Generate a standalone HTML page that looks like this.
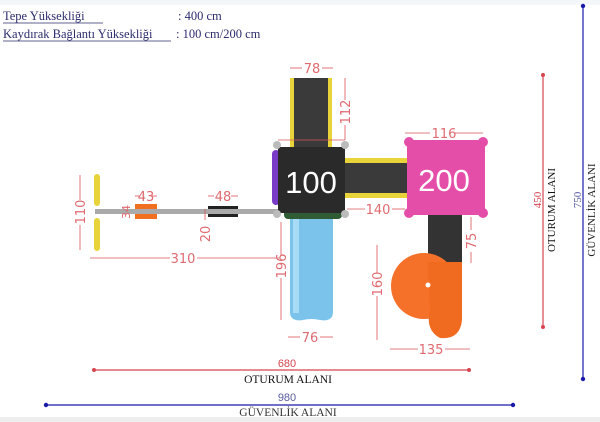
<!DOCTYPE html>
<html><head><meta charset="utf-8"><style>
body{margin:0;background:#fff;width:600px;height:422px;overflow:hidden}
svg{display:block}
.d{font-family:"DejaVu Sans","Liberation Sans",sans-serif;font-size:13px;fill:#df6a70}
.s{font-family:"Liberation Serif",serif}
</style></head><body>
<svg width="600" height="422" viewBox="0 0 600 422" xmlns="http://www.w3.org/2000/svg">
<rect x="0" y="0" width="600" height="5" fill="#f4f7fa"/>
<rect x="0" y="417" width="600" height="5" fill="#eee"/>
<g class="s" font-size="12.5" fill="#2c2c6e">
<text x="3" y="20">Tepe Yüksekliği</text>
<line x1="3" y1="23" x2="103" y2="23" stroke="#2c2c6e" stroke-width="0.8"/>
<text x="178" y="20">: 400 cm</text>
<text x="3" y="38">Kaydırak Bağlantı  Yüksekliği</text>
<line x1="3" y1="41" x2="171" y2="41" stroke="#2c2c6e" stroke-width="0.8"/>
<text x="176" y="38">: 100 cm/200 cm</text>
</g>
<line x1="94" y1="370" x2="469" y2="370" stroke="#d64550" stroke-width="1.2"/>
<circle cx="94" cy="370" r="2" fill="#d64550"/><circle cx="469" cy="370" r="2" fill="#d64550"/>
<text x="287" y="367" text-anchor="middle" font-family="Liberation Sans,sans-serif" font-size="11" fill="#d64550">680</text>
<text x="288" y="383" text-anchor="middle" class="s" font-size="11.5" fill="#111">OTURUM ALANI</text>
<line x1="46" y1="405" x2="513" y2="405" stroke="#1a1aa8" stroke-width="1.2"/>
<circle cx="46" cy="405" r="2.2" fill="#1a1aa8"/><circle cx="513" cy="405" r="2.2" fill="#1a1aa8"/>
<text x="287" y="401" text-anchor="middle" font-family="Liberation Sans,sans-serif" font-size="11" fill="#5a5aa0">980</text>
<text x="288" y="416" text-anchor="middle" class="s" font-size="11.5" fill="#333">GÜVENLİK ALANI</text>
<line x1="543" y1="75" x2="543" y2="327" stroke="#d64550" stroke-width="1.2"/>
<circle cx="543" cy="75" r="2" fill="#d64550"/><circle cx="543" cy="327" r="2" fill="#d64550"/>
<line x1="583" y1="6" x2="583" y2="379" stroke="#1a1aa8" stroke-width="1.2"/>
<circle cx="583" cy="6" r="2.2" fill="#1a1aa8"/><circle cx="583" cy="379" r="2.2" fill="#1a1aa8"/>
<text transform="translate(541,200) rotate(-90)" text-anchor="middle" font-family="Liberation Serif,serif" font-size="11" fill="#d64550">450</text>
<text transform="translate(555,210) rotate(-90)" text-anchor="middle" class="s" font-size="11" fill="#111">OTURUM  ALANI</text>
<text transform="translate(581,200) rotate(-90)" text-anchor="middle" font-family="Liberation Serif,serif" font-size="11" fill="#5a5aa0">750</text>
<text transform="translate(595,210) rotate(-90)" text-anchor="middle" class="s" font-size="11" fill="#222">GÜVENLİK ALANI</text>
<rect x="95" y="209" width="185" height="5" fill="#aaa"/>
<rect x="94" y="174" width="6" height="32" rx="3" fill="#e8d43a"/>
<rect x="94" y="218" width="6" height="33" rx="3" fill="#e8d43a"/>
<rect x="135" y="204" width="22" height="5" fill="#f07020"/><rect x="135" y="214" width="22" height="5" fill="#f07020"/>
<rect x="208" y="206" width="30" height="3" fill="#222"/><rect x="208" y="214" width="30" height="3" fill="#222"/>
<rect x="290" y="78" width="42" height="70" fill="#e8d43a"/>
<rect x="294" y="78" width="34" height="70" fill="#3a3a3a"/>
<rect x="345" y="158" width="62" height="40" fill="#e8d43a"/>
<rect x="345" y="163" width="62" height="30" fill="#3a3a3a"/>
<rect x="428" y="213" width="34" height="50" fill="#333"/>
<circle cx="424" cy="286" r="33" fill="#f5712a"/>
<path d="M428 262 L462 262 L462 320 Q460 340 440 338 Q425 330 430 310 Z" fill="#f06a20"/>
<circle cx="428" cy="285" r="2.5" fill="#fff"/>
<path d="M290 218 H333 V312 Q333 322 320 320 Q311 318 303 320 Q290 322 290 312 Z" fill="#7cc3ec"/>
<rect x="293" y="218" width="6" height="95" fill="#a8dbf6"/>
<rect x="272" y="150" width="8" height="55" rx="4" fill="#7a3bc8"/>
<rect x="284" y="205" width="58" height="14" rx="4" fill="#2f5b35"/>
<rect x="278" y="147" width="67" height="66" fill="#2a2a2a"/>
<text x="311" y="193" text-anchor="middle" font-family="Liberation Sans,sans-serif" font-size="31" fill="#fff">100</text>
<g fill="#bbb"><circle cx="277" cy="145" r="4"/><circle cx="345" cy="145" r="4"/><circle cx="277" cy="214" r="4"/><circle cx="345" cy="214" r="4"/></g>
<rect x="407" y="140" width="78" height="75" fill="#e54ea8"/>
<g fill="#e54ea8"><circle cx="409" cy="142" r="5"/><circle cx="483" cy="142" r="5"/><circle cx="409" cy="213" r="5"/><circle cx="483" cy="213" r="5"/></g>
<text x="444" y="191" text-anchor="middle" font-family="Liberation Sans,sans-serif" font-size="31" fill="#fff">200</text>
<g stroke="#d9545a" stroke-width="0.8" fill="none">
<line x1="290" y1="68" x2="302" y2="68"/><line x1="322" y1="68" x2="333" y2="68"/>
<line x1="345" y1="78" x2="345" y2="100"/><line x1="345" y1="125" x2="345" y2="140"/>
<line x1="405" y1="133" x2="430" y2="133"/><line x1="455" y1="133" x2="483" y2="133"/>
<line x1="347" y1="209" x2="365" y2="209"/><line x1="392" y1="209" x2="405" y2="209"/>
<line x1="471" y1="217" x2="471" y2="230"/><line x1="471" y1="252" x2="471" y2="263"/>
<line x1="281" y1="222" x2="281" y2="255"/><line x1="281" y1="278" x2="281" y2="320"/>
<line x1="288" y1="337" x2="300" y2="337"/><line x1="320" y1="337" x2="333" y2="337"/>
<line x1="377" y1="245" x2="377" y2="273"/><line x1="377" y1="296" x2="377" y2="340"/>
<line x1="390" y1="349" x2="418" y2="349"/><line x1="445" y1="349" x2="470" y2="349"/>
<line x1="90" y1="258" x2="170" y2="258"/><line x1="197" y1="258" x2="280" y2="258"/>
<line x1="80" y1="175" x2="80" y2="200"/><line x1="80" y1="225" x2="80" y2="250"/>
<line x1="205" y1="209" x2="205" y2="220"/>
<line x1="135" y1="196" x2="140" y2="196"/><line x1="152" y1="196" x2="157" y2="196"/>
<line x1="208" y1="196" x2="214" y2="196"/><line x1="231" y1="196" x2="238" y2="196"/>
<line x1="278" y1="140" x2="345" y2="140"/>
</g>
<g class="d">
<text x="312" y="73" text-anchor="middle">78</text>
<text transform="translate(350,112) rotate(-90)" text-anchor="middle">112</text>
<text x="444" y="138" text-anchor="middle">116</text>
<text x="378" y="214" text-anchor="middle">140</text>
<text transform="translate(476,241) rotate(-90)" text-anchor="middle">75</text>
<text transform="translate(286,266) rotate(-90)" text-anchor="middle">196</text>
<text x="310" y="342" text-anchor="middle">76</text>
<text transform="translate(382,284) rotate(-90)" text-anchor="middle">160</text>
<text x="431" y="354" text-anchor="middle">135</text>
<text x="183" y="263" text-anchor="middle">310</text>
<text transform="translate(85,212) rotate(-90)" text-anchor="middle">110</text>
<text transform="translate(210,234) rotate(-90)" text-anchor="middle">20</text>
<text x="146" y="201" text-anchor="middle">43</text>
<text x="223" y="201" text-anchor="middle">48</text>
<text transform="translate(130,212) rotate(-90)" text-anchor="middle" font-size="11">34</text>
</g>
</svg>
</body></html>
